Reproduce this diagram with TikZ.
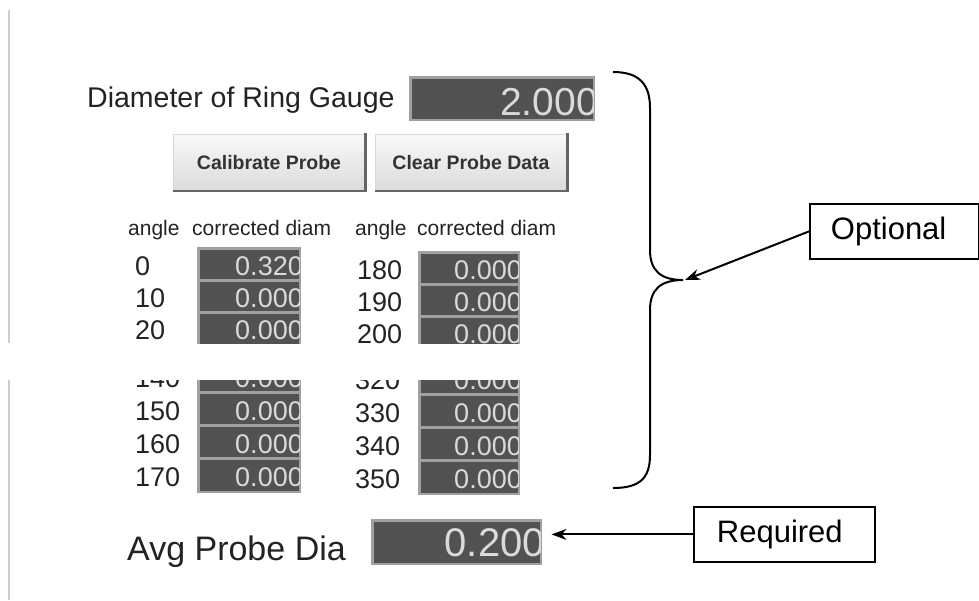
\documentclass[tikz,border=0pt]{standalone}
\usepackage{fontspec}
\setmainfont{Liberation Sans}
\usetikzlibrary{arrows.meta}
\definecolor{valfill}{RGB}{82,82,82}
\definecolor{valtext}{RGB}{218,218,218}
\definecolor{valborder}{RGB}{160,160,160}
\definecolor{lbltext}{RGB}{35,35,35}
\definecolor{sideline}{RGB}{205,205,205}
\tikzset{
  lbl/.style={text=lbltext, inner sep=0pt},
  cell/.style={draw=valborder, fill=valfill, line width=1.5pt, inner sep=0pt},
  valtxt/.style={text=valtext, inner sep=0pt, font=\fontsize{27}{30}\selectfont},
  angtxt/.style={lbl, font=\fontsize{27}{30}\selectfont},
  hdr/.style={lbl, font=\fontsize{21}{24}\selectfont},
  btn/.style={draw=gray!30, top color=gray!5, bottom color=gray!28, line width=1pt,
    minimum width=192pt, minimum height=56pt, inner sep=0pt,
    text=black!80, font=\bfseries\fontsize{19.5}{22}\selectfont},
  callout/.style={draw=black, line width=1.8pt, fill=white, minimum height=55pt,
    inner ysep=0pt, align=left, font=\fontsize{31}{34}\selectfont},
  pointer/.style={-{Stealth[length=15pt,width=11pt]}, line width=2pt},
}
\begin{document}
\begin{tikzpicture}[x=1pt,y=-1pt]
\useasboundingbox (0,0) rectangle (979,600);
% left side line with gap
\draw[sideline, line width=2.5pt] (9,10) coordinate (l1) -- (9,343) coordinate (l2);
\draw[sideline, line width=2.5pt] (9,380) coordinate (l3) -- (9,600) coordinate (l4);

% Diameter of ring gauge
\node[lbl, anchor=base west, font=\fontsize{28.5}{32}\selectfont] (dlbl) at (87,107) {Diameter of Ring Gauge};
\node[cell, minimum width=183pt, minimum height=42pt, anchor=north west] (dbox) at (410,77) {};
\begin{scope}
  \clip (dbox.north west) rectangle (dbox.south east);
  \node[valtxt, anchor=base east, font=\fontsize{39}{42}\selectfont] (dval) at (598,115) {2.000};
\end{scope}
\draw[valborder, line width=1.5pt] (dbox.north west) rectangle (dbox.south east);

% buttons
\node[btn] (cal) at (269,162.5) {Calibrate Probe};
\node[btn] (clr) at (471,162.5) {Clear Probe Data};
\foreach \b in {cal,clr}{
  \draw[black!60, line width=2.5pt] ([yshift=1pt]\b.north east) -- (\b.south east) -- (\b.south west);
}

% headers
\node[hdr, anchor=base west] (h1a) at (128,235) {angle};
\node[hdr, anchor=base west] (h1c) at (192,235) {corrected diam};
\node[hdr, anchor=base west] (h2a) at (355,235) {angle};
\node[hdr, anchor=base west] (h2c) at (417,235) {corrected diam};

% upper part of the table
\begin{scope}
  \clip (0,0) rectangle (979,343);
  \foreach \a/\v/\t [count=\i] in {0/0.320/248,10/0.000/280,20/0.000/312}{
    \node[cell, minimum width=101pt, minimum height=32pt, anchor=north west] (lc\i) at (198,\t) {};
    \node[angtxt, anchor=base west] (la\i) at (135,\t+27) {\a};
    \begin{scope}
      \clip (lc\i.north west) rectangle (lc\i.south east);
      \node[valtxt, anchor=base east] (lv\i) at (303,\t+27) {\v};
    \end{scope}
    \draw[valborder, line width=1.5pt] (lc\i.north west) rectangle (lc\i.south east);
  }
  \foreach \a/\v/\t [count=\i] in {180/0.000/252,190/0.000/284,200/0.000/316}{
    \node[cell, minimum width=99pt, minimum height=32pt, anchor=north west] (rc\i) at (419,\t) {};
    \node[angtxt, anchor=base west] (ra\i) at (357,\t+27) {\a};
    \begin{scope}
      \clip (rc\i.north west) rectangle (rc\i.south east);
      \node[valtxt, anchor=base east] (rv\i) at (522,\t+27) {\v};
    \end{scope}
    \draw[valborder, line width=1.5pt] (rc\i.north west) rectangle (rc\i.south east);
  }
\end{scope}

% lower part of the table
\begin{scope}
  \clip (0,380) rectangle (979,600);
  \foreach \a/\v/\t [count=\i] in {140/0.000/359,150/0.000/392,160/0.000/425,170/0.000/458}{
    \node[cell, minimum width=101pt, minimum height=33pt, anchor=north west] (lb\i) at (198,\t) {};
    \node[angtxt, anchor=base west] (lba\i) at (135,\t+28) {\a};
    \begin{scope}
      \clip (lb\i.north west) rectangle (lb\i.south east);
      \node[valtxt, anchor=base east] (lbv\i) at (303,\t+28) {\v};
    \end{scope}
    \draw[valborder, line width=1.5pt] (lb\i.north west) rectangle (lb\i.south east);
  }
  \foreach \a/\v/\t [count=\i] in {320/0.000/361,330/0.000/394,340/0.000/427,350/0.000/460}{
    \node[cell, minimum width=99pt, minimum height=33pt, anchor=north west] (rb\i) at (419,\t) {};
    \node[angtxt, anchor=base west] (rba\i) at (355,\t+28) {\a};
    \begin{scope}
      \clip (rb\i.north west) rectangle (rb\i.south east);
      \node[valtxt, anchor=base east] (rbv\i) at (522,\t+28) {\v};
    \end{scope}
    \draw[valborder, line width=1.5pt] (rb\i.north west) rectangle (rb\i.south east);
  }
\end{scope}

% average probe diameter
\node[lbl, anchor=base west, font=\fontsize{34}{38}\selectfont] (albl) at (127,560) {Avg Probe Dia};
\node[cell, minimum width=168pt, minimum height=43pt, anchor=north west] (abox) at (372,520) {};
\begin{scope}
  \clip (abox.north west) rectangle (abox.south east);
  \node[valtxt, anchor=base east, font=\fontsize{40}{44}\selectfont] (aval) at (545,556) {0.200};
\end{scope}
\draw[valborder, line width=1.5pt] (abox.north west) rectangle (abox.south east);

% brace
\coordinate (btop) at (613,72);
\coordinate (btip) at (683,280);
\coordinate (bbot) at (613,488);
\draw[line width=2pt] (btop) .. controls (640,72) and (650,85) .. (650,108)
  -- (650,250) .. controls (650,270) and (660,280) .. (btip)
  .. controls (660,280) and (650,290) .. (650,310)
  -- (650,455) .. controls (650,478) and (640,488) .. (bbot);

% callouts
\node[callout, anchor=north west, inner xsep=21pt, text width=127pt] (opt) at (809,203) {Optional};
\node[callout, anchor=north west, inner xsep=23pt, text width=135pt] (req) at (693,506) {Required};
\draw[pointer] (opt.west) -- ([xshift=2pt]btip);
\draw[pointer, shorten >=10pt] (req.west) -- (req.west -| abox.east);
\end{tikzpicture}
\end{document}
